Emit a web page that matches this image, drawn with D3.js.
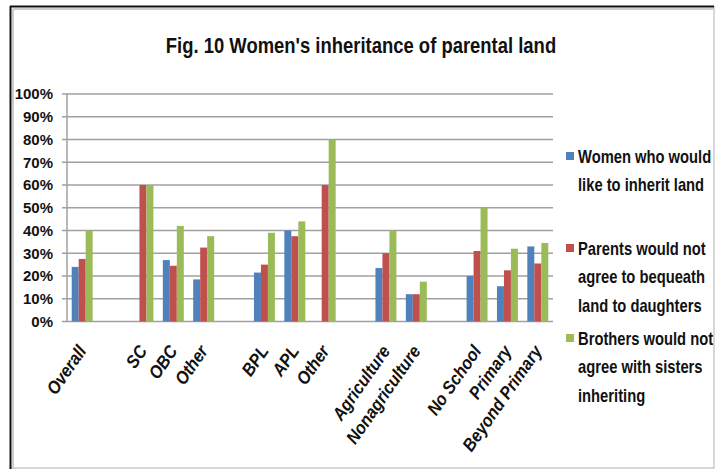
<!DOCTYPE html>
<html><head><meta charset="utf-8">
<script src="https://cdn.jsdelivr.net/npm/d3@7"></script>
<style>
html,body{margin:0;padding:0;background:#fff;}
svg{display:block;}
</style></head>
<body>
<svg id="chart" width="718" height="469"></svg>
<script>
const categories = ["Overall","","SC","OBC","Other","","BPL","APL","Other","","Agriculture","Nonagriculture","","No School","Primary","Beyond Primary"];
const women    = [24, null, 0, 27, 18.5, null, 21.5, 40, 0, null, 23.5, 12, null, 20, 15.5, 33];
const parents  = [27.5, null, 60, 24.5, 32.5, null, 25, 37.5, 60, null, 30, 12, null, 31, 22.5, 25.5];
const brothers = [40, null, 60, 42, 37.5, null, 39, 44, 80, null, 40, 17.5, null, 50, 32, 34.5];
const seriesNames = [["Women who would","like to inherit land"],["Parents would not","agree to bequeath","land to daughters"],["Brothers would not","agree with sisters","inheriting"]];
const colors = ["#4F81BD","#C0504D","#9BBB59"];
const yTicks = [0,10,20,30,40,50,60,70,80,90,100];
const title = "Fig. 10 Women's inheritance of parental land";

const svg = d3.select("#chart");
const sans = "'Liberation Sans',Arial,sans-serif";
const cx = 0.82; // horizontal condensing to mimic a narrow face

// frame
svg.append("rect").attr("x",10.5).attr("y",6.5).attr("width",703.5).attr("height",461.5)
  .attr("fill","#fff").attr("stroke","#b0b0b0").attr("stroke-width",1);
svg.append("line").attr("x1",10).attr("x2",714).attr("y1",6.5).attr("y2",6.5).attr("stroke","#111").attr("stroke-width",2);
svg.append("line").attr("x1",10.5).attr("x2",10.5).attr("y1",6).attr("y2",469).attr("stroke","#111").attr("stroke-width",2);
svg.append("line").attr("x1",13).attr("x2",714).attr("y1",9).attr("y2",9).attr("stroke","#ccc").attr("stroke-width",2);
svg.append("line").attr("x1",13).attr("x2",13).attr("y1",9).attr("y2",469).attr("stroke","#ccc").attr("stroke-width",2);

const pLeft = 67, pRight = 553, pTop = 94, pBottom = 321.5;
const x = d3.scaleBand().domain(d3.range(categories.length)).range([pLeft,pRight]).paddingInner(0.31).paddingOuter(0.155);
const xs = d3.scaleBand().domain([0,1,2]).range([0,x.bandwidth()]);
const y = d3.scaleLinear().domain([0,100]).range([pBottom,pTop]);

// title
svg.append("g").attr("transform",`translate(361,53) scale(${cx},1)`)
  .append("text").attr("text-anchor","middle")
  .style("font-family",sans).style("font-weight","bold").style("font-size","22.5px").attr("fill","#111").text(title);

// gridlines
svg.append("g").selectAll("line").data(yTicks).join("line")
  .attr("x1",pLeft-5).attr("x2",pRight).attr("y1",d=>y(d)).attr("y2",d=>y(d))
  .attr("stroke","#a0a0a0").attr("stroke-width",1.5);
svg.append("line").attr("x1",pLeft).attr("x2",pLeft).attr("y1",pTop).attr("y2",pBottom)
  .attr("stroke","#a0a0a0").attr("stroke-width",1.5);

// y labels
const yAxis = d3.axisLeft(y).tickValues(yTicks).tickFormat(d=>d+"%").tickSize(0).tickPadding(14);
const gy = svg.append("g").attr("transform",`translate(${pLeft},0)`).call(yAxis);
gy.select(".domain").remove();
gy.selectAll("text").style("font-family",sans).style("font-weight","bold").style("font-size","15px").attr("fill","#111");

// bars
const series = [women, parents, brothers];
series.forEach((vals,si)=>{
  svg.append("g").selectAll("rect").data(vals.map((v,i)=>({v,i})).filter(d=>d.v!==null && d.v>0)).join("rect")
    .attr("x",d=>x(d.i)+xs(si)).attr("width",xs.bandwidth())
    .attr("y",d=>y(d.v)).attr("height",d=>y(0)-y(d.v)).attr("fill",colors[si]);
});

// x labels
svg.append("g").selectAll("text").data(categories.map((c,i)=>({c,i})).filter(d=>d.c!=="")).join("text")
  .attr("transform",d=>`translate(${x(d.i)+x.bandwidth()/2+5},351) rotate(-55) scale(0.9,1)`)
  .attr("text-anchor","end")
  .style("font-family",sans).style("font-weight","bold").style("font-style","italic").style("font-size","18px")
  .attr("fill","#111").text(d=>d.c);

// legend
const legY = [163,255,345];
seriesNames.forEach((lines,si)=>{
  svg.append("rect").attr("x",566).attr("y",legY[si]-11).attr("width",8).attr("height",8).attr("fill",colors[si]);
  const t = svg.append("g").attr("transform",`translate(578,${legY[si]}) scale(${cx},1)`).append("text")
    .style("font-family",sans).style("font-weight","bold").style("font-size","18px").attr("fill","#111");
  lines.forEach((l,li)=>t.append("tspan").attr("x",0).attr("dy",li===0?0:28.5).text(l));
});
</script>
</body></html>
